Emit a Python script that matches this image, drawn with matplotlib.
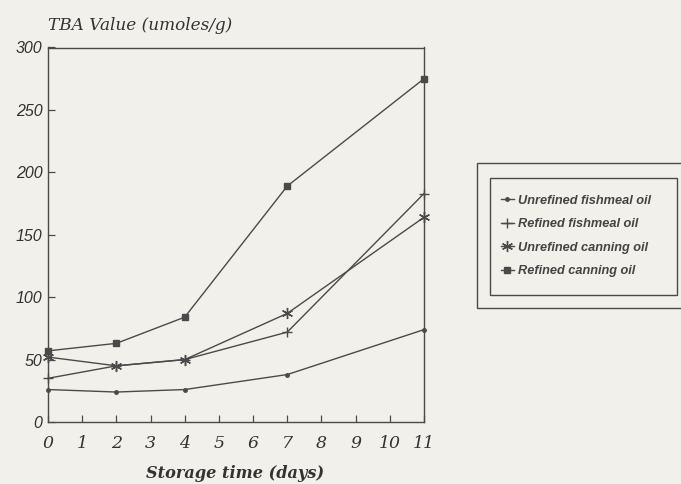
import matplotlib
matplotlib.use("Agg")
import matplotlib.pyplot as plt
from matplotlib.patches import Rectangle

days = [0, 2, 4, 7, 11]
unrefined_fishmeal = [26, 24, 26, 38, 74]
refined_fishmeal = [35, 45, 50, 72, 183]
unrefined_canning = [52, 45, 50, 87, 164]
refined_canning = [57, 63, 84, 189, 275]
series_labels = ["Unrefined fishmeal oil", "Refined fishmeal oil",
                 "Unrefined canning oil", "Refined canning oil"]
x_ticks = list(range(0, 12))
y_ticks = [0, 50, 100, 150, 200, 250, 300]

bg = "#f1f0ea"
ink = "#4a4a4a"

fig = plt.figure(figsize=(6.81, 4.84), dpi=100, facecolor=bg)
ax = fig.add_axes([48/681, (484-422)/484, (424-48)/681, (422-47.5)/484])
ax.set_facecolor(bg)

styles = [
    dict(marker='.', markersize=5),
    dict(marker='+', markersize=7, markeredgewidth=1.0),
    dict(marker=(6, 2, 0), markersize=8, markeredgewidth=1.0),
    dict(marker='s', markersize=4.5),
]
data = [unrefined_fishmeal, refined_fishmeal, unrefined_canning, refined_canning]
handles = []
for vals, lab, st in zip(data, series_labels, styles):
    h, = ax.plot(days, vals, color=ink, linewidth=1.0, label=lab,
                 markerfacecolor=ink, markeredgecolor=ink, clip_on=False,
                 zorder=3, **st)
    handles.append(h)

ax.set_xlim(0, 11)
ax.set_ylim(0, 300)
ax.set_xticks(x_ticks)
ax.set_yticks(y_ticks)
ax.tick_params(direction='in', length=5, color=ink, width=0.9)
ax.set_xticklabels([str(t) for t in x_ticks], family='DejaVu Serif',
                   style='italic', fontsize=12.5, color='#333333')
ax.set_yticklabels([str(t) for t in y_ticks], family='Liberation Sans',
                   style='italic', fontsize=11.5, color='#333333')
ax.tick_params(axis='x', pad=9)
ax.tick_params(axis='y', pad=4)
for s in ax.spines.values():
    s.set_color(ink)
    s.set_linewidth(1.0)

fig.text(140/681, 1-25/484, "TBA Value (umoles/g)", family='DejaVu Serif',
         style='italic', fontsize=12.2, color='#333333', ha='center', va='center')
fig.text(235/681, 1-474/484, "Storage time (days)", family='DejaVu Serif',
         style='italic', fontweight='bold', fontsize=11.6, color='#333333',
         ha='center', va='center')

# outer frame around legend (extends past right edge)
fig.patches.append(Rectangle((477/681, (484-308)/484), 300/681, 145/484,
                             transform=fig.transFigure, fill=False,
                             edgecolor=ink, linewidth=1.0, clip_on=False))
# inner legend frame
fig.patches.append(Rectangle((490/681, (484-295)/484), 187/681, 117/484,
                             transform=fig.transFigure, fill=False,
                             edgecolor=ink, linewidth=1.0, clip_on=False))

leg = fig.legend(handles=handles, labels=series_labels,
                 loc='upper left', bbox_to_anchor=(497/681, 1-191/484),
                 frameon=False,
                 prop=dict(family='Liberation Sans', style='italic',
                           weight='bold', size=9.2),
                 handlelength=1.0, handletextpad=0.35, labelspacing=0.9,
                 borderpad=0.3, borderaxespad=0)
for t in leg.get_texts():
    t.set_color('#444444')

fig.savefig("out.png", dpi=100, facecolor=bg)
